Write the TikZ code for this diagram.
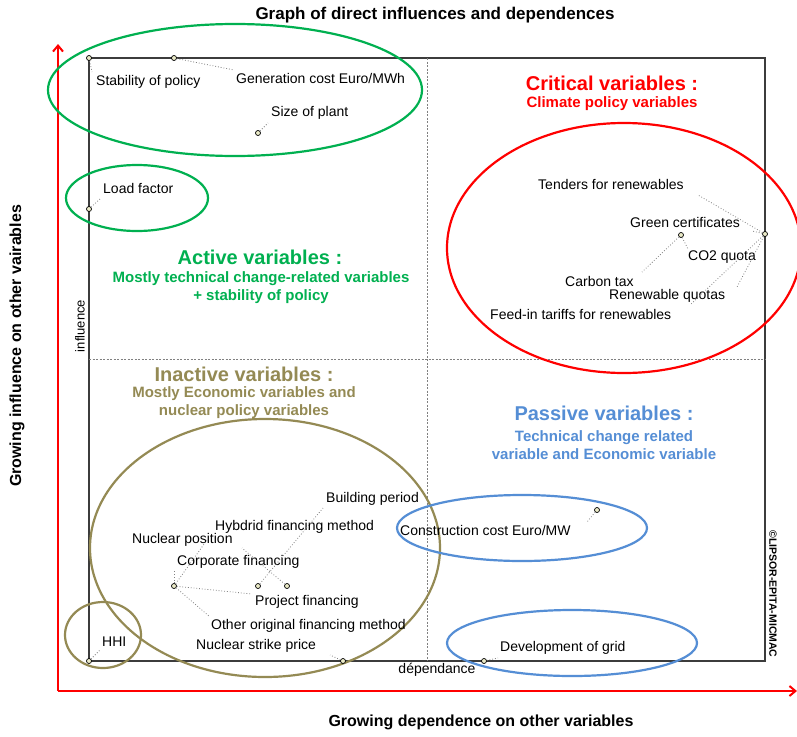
\documentclass[tikz,border=0pt]{standalone}
\usepackage{fontspec}
\setmainfont{Liberation Sans}
\usetikzlibrary{arrows.meta}
\definecolor{cgreen}{RGB}{0,176,80}
\definecolor{cred}{RGB}{255,0,0}
\definecolor{colive}{RGB}{148,138,84}
\definecolor{cblue}{RGB}{85,142,213}
\definecolor{cframe}{RGB}{60,60,60}
\definecolor{cpt}{RGB}{235,235,200}
\tikzset{
  frameline/.style={draw=cframe,line width=1.2pt},
  divline/.style={draw=gray,dashed,line width=0.6pt,dash pattern=on 2pt off 1.5pt},
  pt/.style={circle,draw=black,fill=cpt,line width=0.7pt,minimum size=5pt,inner sep=0pt},
  lbl/.style={anchor=west,inner sep=0pt,font=\fontsize{14}{14}\selectfont},
  lead/.style={draw=gray,dotted,line width=0.8pt},
  ell/.style={line width=2.2pt},
  axisarrow/.style={draw=cred,line width=2.2pt,-{Straight Barb[length=6pt,width=10pt,line width=2pt]}},
  qtitle/.style={font=\bfseries\fontsize{20}{22}\selectfont,inner sep=0pt},
  qsub/.style={font=\bfseries\fontsize{15}{18}\selectfont,align=center,inner sep=0pt},
  axlab/.style={font=\bfseries\fontsize{16}{16}\selectfont},
}
\begin{document}
\begin{tikzpicture}[x=1pt,y=-1pt]
\useasboundingbox[fill=white] (0,0) rectangle (797,736);
% axes arrows
\coordinate (ao) at (58,691);
\coordinate (ay) at (58,44);
\coordinate (ax) at (797,691);
\draw[axisarrow] (ao) -- (ay);
\draw[axisarrow] (ao) -- (ax);
% frame
\draw[frameline] (89,58) rectangle (765,661);
\draw[divline] (427,58) -- (427,661);
\draw[divline] (89,359) -- (765,359);
% titles
\node[font=\bfseries\fontsize{17}{17}\selectfont] (title) at (435,15) {Graph of direct influences and dependences};
\node[axlab] (xlab) at (481,722) {Growing dependence on other variables};
\node[axlab,rotate=90] (ylab) at (17,346) {Growing influence on other vairables};
\node[font=\fontsize{13}{13}\selectfont,rotate=90] (infl) at (80,326) {influence};
\node[font=\fontsize{14}{14}\selectfont] (dep) at (437,670) {dépendance};
\node[font=\bfseries\fontsize{10.5}{10.5}\selectfont,rotate=-90] (copy) at (773,594) {©LIPSOR-EPITA-MICMAC};
% quadrant titles
\node[qtitle,text=cred] (crit) at (612,83) {Critical variables :};
\node[qsub,text=cred] (crits) at (612,104) {Climate policy variables};
\node[qtitle,text=cgreen] (act) at (260,257) {Active variables :};
\node[qsub,text=cgreen] (acts) at (261,288) {Mostly technical change-related variables\\+ stability of policy};
\node[qtitle,text=colive] (inact) at (244,374) {Inactive variables :};
\node[qsub,text=colive] (inacts) at (244,403) {Mostly Economic variables and\\nuclear policy variables};
\node[qtitle,text=cblue] (pass) at (604,413) {Passive variables :};
\node[qsub,text=cblue] (passs) at (604,445) {Technical change related\\variable and Economic variable};
% ellipses
\draw[ell,cgreen] (235,90) ellipse [x radius=187, y radius=66];
\draw[ell,cgreen] (137,198) ellipse [x radius=71, y radius=33];
\draw[ell,cred] (624,248) ellipse [x radius=177, y radius=125];
\draw[ell,colive] (265,548) ellipse [x radius=175, y radius=129];
\draw[ell,colive] (103,635) ellipse [x radius=38, y radius=33];
\draw[ell,cblue] (522,528) ellipse [x radius=125, y radius=33];
\draw[ell,cblue] (572,643) ellipse [x radius=125, y radius=33];
% labels
\node[lbl] (lStab) at (96,82) {Stability of policy};
\node[lbl] (lGen) at (236,78) {Generation cost Euro/MWh};
\node[lbl] (lSize) at (271,113) {Size of plant};
\node[lbl] (lLoad) at (103,188) {Load factor};
\node[lbl] (lTend) at (538,184) {Tenders for renewables};
\node[lbl] (lGreen) at (630,222) {Green certificates};
\node[lbl] (lCO2) at (688,257) {CO2 quota};
\node[lbl] (lCarb) at (565,281) {Carbon tax};
\node[lbl] (lRenq) at (609,296) {Renewable quotas};
\node[lbl] (lFeed) at (490,314) {Feed-in tariffs for renewables};
\node[lbl] (lBld) at (326,499) {Building period};
\node[lbl] (lHyb) at (215,527) {Hybdrid financing method};
\node[lbl] (lNucp) at (132,540) {Nuclear position};
\node[lbl] (lCorp) at (177,562) {Corporate financing};
\node[lbl] (lProj) at (255,602) {Project financing};
\node[lbl] (lOther) at (211,626) {Other original financing method};
\node[lbl] (lStrike) at (196,646) {Nuclear strike price};
\node[lbl] (lHHI) at (102,642) {HHI};
\node[lbl] (lCons) at (400,530) {Construction cost Euro/MW};
\node[lbl] (lGrid) at (500,648) {Development of grid};
% leader end coordinates
\coordinate (eStab) at (92,72);
\coordinate (eGen) at (234,70);
\coordinate (eSize) at (268,123);
\coordinate (eLoad) at (100,199);
\coordinate (eTend) at (698,195);
\coordinate (eGreen) at (752,231);
\coordinate (eRenq) at (737,287);
\coordinate (eFeed) at (690,305);
\coordinate (eCarb) at (642,272);
\coordinate (eCO2) at (688,249);
\coordinate (eNucp) at (207,540);
\coordinate (eCorp) at (174,571);
\coordinate (eProj) at (252,594);
\coordinate (eOther) at (210,617);
\coordinate (eBld) at (323,508);
\coordinate (eHyb) at (242,548);
\coordinate (eStrike) at (330,655);
\coordinate (eHHI) at (100,650);
\coordinate (eCons) at (587,522);
\coordinate (eGrid) at (498,658);
% points
\node[pt] (pStab) at (89,58) {};
\node[pt] (pGen) at (174,58) {};
\node[pt] (pSize) at (258,133) {};
\node[pt] (pLoad) at (89,209) {};
\node[pt] (pR) at (765,234) {};
\node[pt] (pG) at (681,235) {};
\node[pt] (pNuc) at (174,586) {};
\node[pt] (pBld) at (258,586) {};
\node[pt] (pHyb) at (287,586) {};
\node[pt] (pStrike) at (343,661) {};
\node[pt] (pHHI) at (89,661) {};
\node[pt] (pCons) at (597,510) {};
\node[pt] (pGrid) at (484,661) {};
% leaders
\draw[lead] (pStab) -- (eStab);
\draw[lead] (pGen) -- (eGen);
\draw[lead] (pSize) -- (eSize);
\draw[lead] (pLoad) -- (eLoad);
\draw[lead] (pR) -- (eTend);
\draw[lead] (pR) -- (eGreen);
\draw[lead] (pR) -- (eRenq);
\draw[lead] (pR) -- (eFeed);
\draw[lead] (pG) -- (eCarb);
\draw[lead] (pG) -- (eCO2);
\draw[lead] (pNuc) -- (eNucp);
\draw[lead] (pNuc) -- (eCorp);
\draw[lead] (pNuc) -- (eProj);
\draw[lead] (pNuc) -- (eOther);
\draw[lead] (pBld) -- (eBld);
\draw[lead] (pHyb) -- (eHyb);
\draw[lead] (pStrike) -- (eStrike);
\draw[lead] (pHHI) -- (eHHI);
\draw[lead] (pCons) -- (eCons);
\draw[lead] (pGrid) -- (eGrid);
\end{tikzpicture}
\end{document}
